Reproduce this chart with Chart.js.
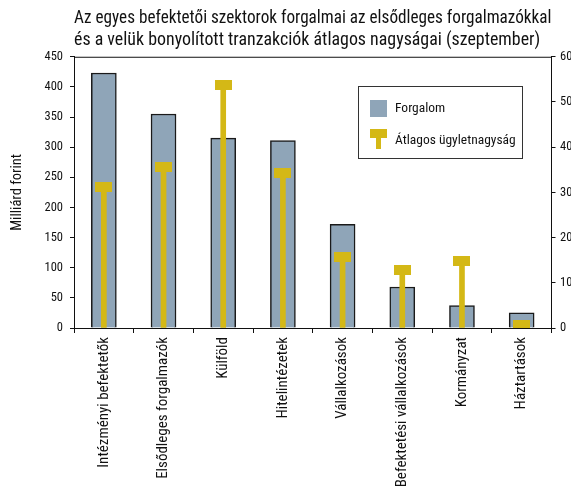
<!DOCTYPE html>
<html><head><meta charset="utf-8">
<script src="https://cdn.jsdelivr.net/npm/chart.js@4"></script>
<style>html,body{margin:0;padding:0;background:#fff;overflow:hidden}canvas{display:block}</style>
</head><body>
<canvas id="c" width="571" height="490"></canvas>
<script>
const titleLines = ["Az egyes befektetői szektorok forgalmai az elsődleges forgalmazókkal", "és a velük bonyolított tranzakciók átlagos nagyságai (szeptember)"];
const categories = ["Intézményi befektetők","Elsődleges forgalmazók","Külföld","Hitelintézetek","Vállalkozások","Befektetési vállalkozások","Kormányzat","Háztartások"];
const forgalom = [423, 355, 315, 311, 172, 68, 37, 25];
const atlagos = [31.1, 35.6, 53.8, 34.3, 15.6, 12.8, 14.8, 0.6];
const leftTicks = [0,50,100,150,200,250,300,350,400,450];
const rightTicks = [0,10,20,30,40,50,60];
const yTitle = "Milliárd forint";
const seriesNames = ["Forgalom", "Átlagos ügyletnagyság"];

const FONT = "'Liberation Sans Narrow','Arial Narrow','Roboto Condensed',sans-serif";
const BAR = '#8fa5b8', YEL = '#d4b816', INK = '#111';

const cap = document.createElement('canvas');
cap.width = 17; cap.height = 10;
const cx = cap.getContext('2d'); cx.fillStyle = YEL; cx.fillRect(0,0,17,10);

const frame = {
  id: 'frame',
  afterDatasetsDraw(chart) {
    const {ctx, chartArea: a} = chart;
    ctx.save();
    ctx.strokeStyle = INK; ctx.lineWidth = 1;
    ctx.beginPath(); ctx.moveTo(a.left, a.top + 0.5); ctx.lineTo(a.right, a.top + 0.5); ctx.stroke();
    const x0 = 358.5, y0 = 86.5, w = 164, h = 72;
    ctx.fillStyle = '#fff'; ctx.fillRect(x0, y0, w, h);
    ctx.strokeStyle = '#333'; ctx.strokeRect(x0, y0, w, h);
    ctx.fillStyle = BAR; ctx.fillRect(370, 100, 17, 17);
    ctx.fillStyle = YEL; ctx.fillRect(370, 129, 17, 9); ctx.fillRect(376, 129, 5, 20);
    ctx.fillStyle = INK; ctx.font = "13.5px " + FONT; ctx.textBaseline = 'middle';
    ctx.fillText(chart.data.datasets[0].label, 395, 109);
    ctx.fillText(chart.data.datasets[2].label, 395, 141);
    ctx.restore();
  }
};

new Chart(document.getElementById('c'), {
  type: 'bar',
  data: {
    labels: categories,
    datasets: [
      {label: seriesNames[0], data: forgalom, yAxisID: 'y', backgroundColor: BAR, borderColor: '#1a1a1a', borderWidth: 1.5, barThickness: 25, grouped: false, order: 3},
      {label: seriesNames[1] + ' ', data: atlagos, yAxisID: 'y2', backgroundColor: YEL, borderWidth: 0, barThickness: 5, grouped: false, order: 2},
      {type: 'line', label: seriesNames[1], data: atlagos, yAxisID: 'y2', showLine: false, pointStyle: cap, pointRadius: 8, order: 1, clip: 0}
    ]
  },
  options: {
    responsive: false, animation: false,
    layout: {padding: 0},
    plugins: {
      legend: {display: false}, tooltip: {enabled: false},
      title: {display: true, text: titleLines, align: 'start', fullSize: false, color: INK,
        font: {family: FONT, size: 17.9, weight: 'normal', lineHeight: 1.25}, padding: {top: 7, bottom: 5}}
    },
    scales: {
      x: {
        grid: {drawOnChartArea: false, drawTicks: true, tickLength: 5, color: INK, offset: true},
        border: {display: true, color: INK},
        ticks: {color: INK, font: {family: FONT, size: 15}, maxRotation: 90, minRotation: 90, padding: 4},
        afterFit(s) { s.height = 162; }
      },
      y: {
        position: 'left', min: 0, max: 450,
        afterBuildTicks(s) { s.ticks = leftTicks.map(v => ({value: v})); },
        grid: {drawOnChartArea: false, tickLength: 4, color: INK},
        border: {display: true, color: INK},
        ticks: {color: INK, font: {family: FONT, size: 12.5}, padding: 7},
        title: {display: true, text: yTitle, color: INK, font: {family: FONT, size: 14.5}, padding: {top: 9, bottom: 10}},
        afterFit(s) { s.width = 74; }
      },
      y2: {
        position: 'right', min: 0, max: 60,
        afterBuildTicks(s) { s.ticks = rightTicks.map(v => ({value: v})); },
        grid: {drawOnChartArea: false, tickLength: 4, color: INK},
        border: {display: true, color: INK},
        ticks: {color: INK, font: {family: FONT, size: 12.5}, padding: 4.5},
        afterFit(s) { s.width = 19.5; }
      }
    }
  },
  plugins: [frame]
});
</script>
</body></html>
